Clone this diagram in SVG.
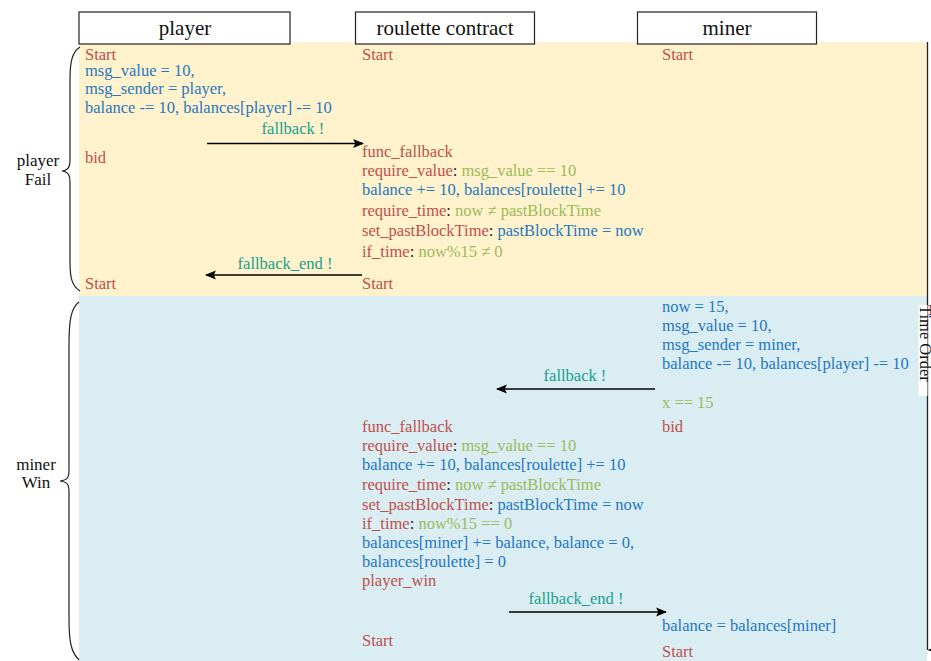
<svg xmlns="http://www.w3.org/2000/svg" width="931" height="661" viewBox="0 0 931 661">
  <style>
    text { font-family: "Liberation Serif", "DejaVu Serif", serif; font-size: 16.5px; }
    .hd { font-size: 21px; fill: #111; text-anchor: middle; }
    .side { font-size: 17px; fill: #111; text-anchor: middle; }
    .r { fill: #c0504d; }
    .b { fill: #1f78c1; }
    .g { fill: #9bbb59; }
    .k { fill: #222; }
    .t { fill: #17a08f; }
    .box { fill: #fff; stroke: #222; stroke-width: 1.2; }
    .msg { stroke: #000; stroke-width: 1.3; fill: none; marker-end: url(#ah); }
    .brace { stroke: #222; stroke-width: 1.2; fill: none; }
  </style>
  <defs>
    <marker id="ah" viewBox="0 0 10 10" refX="9" refY="5" markerWidth="11" markerHeight="11" markerUnits="userSpaceOnUse" orient="auto">
      <path d="M0,1 L10,5 L0,9 L2,5 Z" fill="#000"/>
    </marker>
    <marker id="ahBig" viewBox="0 0 10 14" refX="5" refY="14" markerWidth="10" markerHeight="14" markerUnits="userSpaceOnUse" orient="auto-start-reverse">
      <path d="M0,0 L5,14 L10,0 L5,3 Z" fill="#000"/>
    </marker>
  </defs>

  <!-- phase backgrounds -->
  <rect x="79" y="42" width="848" height="254" fill="#fff2cc"/>
  <rect x="79" y="296" width="848" height="365" fill="#daedf3"/>

  <!-- lifeline headers -->
  <g id="player">
    <rect class="box" x="79" y="12" width="211" height="32"/>
    <text class="hd" x="185" y="35">player</text>
  </g>
  <g id="roulette">
    <rect class="box" x="355.5" y="12" width="179" height="32"/>
    <text class="hd" x="445" y="35">roulette contract</text>
  </g>
  <g id="miner">
    <rect class="box" x="637.5" y="12" width="179" height="32"/>
    <text class="hd" x="727" y="35">miner</text>
  </g>

  <!-- phase braces -->
  <g id="phase-fail">
    <path class="brace" d="M80,47 C72,52 70,62 70,80 L70,160 C70,166 69,170 62,171 C69,172 70,176 70,182 L70,262 C70,278 72,286 80,291"/>
    <text class="side" x="38" y="166">player</text>
    <text class="side" x="38" y="185">Fail</text>
  </g>
  <g id="phase-win">
    <path class="brace" d="M79,302 C71,308 69,320 69,345 L69,470 C69,477 68,480 60,481 C68,482 69,485 69,492 L69,618 C69,642 71,652 79,660"/>
    <text class="side" x="36" y="470">miner</text>
    <text class="side" x="36" y="488">Win</text>
  </g>

  <!-- player steps -->
  <g id="player-steps">
    <text class="r" x="85" y="60">Start</text>
    <text class="b" x="85" y="76">msg_value = 10,</text>
    <text class="b" x="85" y="94">msg_sender = player,</text>
    <text class="b" x="85" y="113">balance -= 10, balances[player] -= 10</text>
    <text class="r" x="85" y="163">bid</text>
    <text class="r" x="85" y="289">Start</text>
  </g>

  <!-- contract steps -->
  <g id="roulette-steps">
    <text class="r" x="362" y="60">Start</text>
    <text class="r" x="362" y="157">func_fallback</text>
    <text x="362" y="176"><tspan class="r">require_value</tspan><tspan class="k">: </tspan><tspan class="g">msg_value == 10</tspan></text>
    <text class="b" x="362" y="195">balance += 10, balances[roulette] += 10</text>
    <text x="362" y="216"><tspan class="r">require_time</tspan><tspan class="k">: </tspan><tspan class="g">now ≠ pastBlockTime</tspan></text>
    <text x="362" y="236"><tspan class="r">set_pastBlockTime</tspan><tspan class="k">: </tspan><tspan class="b">pastBlockTime = now</tspan></text>
    <text x="362" y="257"><tspan class="r">if_time</tspan><tspan class="k">: </tspan><tspan class="g">now%15 ≠ 0</tspan></text>
    <text class="r" x="362" y="289">Start</text>

    <text class="r" x="362" y="432">func_fallback</text>
    <text x="362" y="451"><tspan class="r">require_value</tspan><tspan class="k">: </tspan><tspan class="g">msg_value == 10</tspan></text>
    <text class="b" x="362" y="470">balance += 10, balances[roulette] += 10</text>
    <text x="362" y="490"><tspan class="r">require_time</tspan><tspan class="k">: </tspan><tspan class="g">now ≠ pastBlockTime</tspan></text>
    <text x="362" y="510"><tspan class="r">set_pastBlockTime</tspan><tspan class="k">: </tspan><tspan class="b">pastBlockTime = now</tspan></text>
    <text x="362" y="529"><tspan class="r">if_time</tspan><tspan class="k">: </tspan><tspan class="g">now%15 == 0</tspan></text>
    <text class="b" x="362" y="548">balances[miner] += balance, balance = 0,</text>
    <text class="b" x="362" y="567">balances[roulette] = 0</text>
    <text class="r" x="362" y="586">player_win</text>
    <text class="r" x="362" y="646">Start</text>
  </g>

  <!-- miner steps -->
  <g id="miner-steps">
    <text class="r" x="662" y="60">Start</text>
    <text class="b" x="662" y="312">now = 15,</text>
    <text class="b" x="662" y="331">msg_value = 10,</text>
    <text class="b" x="662" y="350">msg_sender = miner,</text>
    <text class="b" x="662" y="369">balance -= 10, balances[player] -= 10</text>
    <text class="g" x="662" y="408">x == 15</text>
    <text class="r" x="662" y="432">bid</text>
    <text class="b" x="662" y="631">balance = balances[miner]</text>
    <text class="r" x="662" y="657">Start</text>
  </g>

  <!-- messages -->
  <g id="connectors">
    <line class="msg" x1="207" y1="143.5" x2="363" y2="143.5"/>
    <text class="t" x="293" y="134" text-anchor="middle">fallback !</text>
    <line class="msg" x1="362" y1="275" x2="206" y2="275"/>
    <text class="t" x="285" y="269" text-anchor="middle">fallback_end !</text>
    <line class="msg" x1="655" y1="389" x2="497" y2="389"/>
    <text class="t" x="575" y="381" text-anchor="middle">fallback !</text>
    <line class="msg" x1="509" y1="612" x2="666" y2="612"/>
    <text class="t" x="576" y="604" text-anchor="middle">fallback_end !</text>
  </g>

  <!-- time axis -->
  <g id="time-order">
    <line x1="927.5" y1="42" x2="927.5" y2="650" stroke="#222" stroke-width="1.3" marker-end="url(#ahBig)"/>
    <rect x="918.5" y="305" width="9" height="91" fill="#fff"/>
    <text x="920" y="305" transform="rotate(90 920 305)" fill="#111" font-size="17.5">Time Order</text>
  </g>
</svg>
